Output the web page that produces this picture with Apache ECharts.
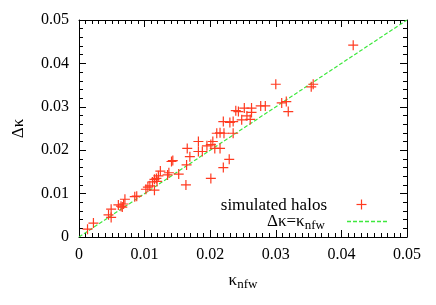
<!DOCTYPE html>
<html><head><meta charset="utf-8">
<script src="https://cdn.jsdelivr.net/npm/echarts@6/dist/echarts.min.js"></script>
<style>html,body{margin:0;padding:0;background:#fff}#c{width:436px;height:305px}</style>
</head><body><div id="c"></div>
<script>
var kappaNfw = [0.0013,0.0022,0.0045,0.0049,0.0049,0.0060,0.0064,0.0068,0.0070,0.0066,0.0085,0.0088,0.0102,0.0105,0.0108,0.0115,0.0112,0.0115,0.0118,0.0121,0.0124,0.0119,0.0135,0.0137,0.0141,0.0143,0.0152,
0.0163,0.0164,0.0169,0.0165,0.0182,0.0188,0.0182,0.0195,0.0201,0.0204,0.0207,0.0215,0.0201,0.0220,0.0229,0.0210,0.0215,0.0221,0.0235,0.0220,0.0230,0.0235,0.0248,0.0256,0.0261,0.0239,0.0243,0.0252,0.0263,0.0263,0.0277,0.0284,0.0300,0.0309,0.0316,0.0319,
0.0354,0.0357,0.0418];
var deltaKappa = [0.0018,0.0032,0.0051,0.0045,0.0064,0.0074,0.0071,0.0076,0.0087,0.0069,0.0093,0.0094,0.0110,0.0115,0.0118,0.0108,0.0127,0.0133,0.0135,0.0141,0.0152,0.0128,0.0143,0.0148,0.0174,0.0176,0.0145,
0.0120,0.0166,0.0185,0.0204,0.0197,0.0197,0.0220,0.0210,0.0213,0.0220,0.0204,0.0204,0.0135,0.0160,0.0179,0.0239,0.0240,0.0239,0.0239,0.0266,0.0264,0.0266,0.0270,0.0279,0.0271,0.0291,0.0289,0.0297,0.0297,0.0287,0.0302,0.0302,0.0352,0.0309,0.0312,0.0289,
0.0346,0.0352,0.0442];
var lineX = [0, 0.05];
var lineY = [0, 0.05];
var tickLabels = ['0','0.01','0.02','0.03','0.04','0.05'];

var pts = kappaNfw.map(function(x,i){return [x, deltaKappa[i]];});
var linePts = lineX.map(function(x,i){return [x, lineY[i]];});
var FONT = 'Liberation Serif';
var RED = '#ff3a20', GREEN = '#3ee83e';
var cross = 'path://M4.4,0h1.2v4.4h4.4v1.2h-4.4v4.4h-1.2v-4.4h-4.4v-1.2h4.4z';
function lab(v){ var idx = Math.round(v*100); return tickLabels[idx] !== undefined ? tickLabels[idx] : ''; }
function mkAxis(pos, split, labels, extra){
  var a = {
    type: 'value', position: pos, min: 0, max: 0.05, interval: 0.01,
    axisLine: {show: true, onZero: false, lineStyle: {color: '#000', width: 1}},
    axisTick: {show: true, inside: true, length: 7, lineStyle: {color: '#000', width: 1}},
    minorTick: {show: true, splitNumber: split, length: 4, lineStyle: {color: '#000', width: 1}},
    splitLine: {show: false},
    axisLabel: labels ? {show: true, fontFamily: FONT, fontSize: 16, color: '#000', margin: 10, formatter: lab} : {show: false}
  };
  return Object.assign(a, extra || {});
}
var chart = echarts.init(document.getElementById('c'), null, {renderer: 'canvas'});
chart.setOption({
  animation: false,
  grid: {left: 79, right: 29, top: 20, bottom: 68},
  xAxis: [
    mkAxis('bottom', 10, true, {
      name: '{a|κ}{s|nfw}', nameLocation: 'middle', nameGap: 33,
      nameTextStyle: {rich: {a: {fontFamily: FONT, fontSize: 17, color: '#000'}, s: {fontFamily: FONT, fontSize: 13, color: '#000', padding: [8,0,0,0]}}}}),
    mkAxis('top', 10, false)
  ],
  yAxis: [
    mkAxis('left', 5, true, {
      name: 'Δκ', nameLocation: 'middle', nameGap: 52, nameRotate: 90,
      nameTextStyle: {fontFamily: FONT, fontSize: 17, color: '#000'}}),
    mkAxis('right', 5, false)
  ],
  series: [
    {type: 'line', name: 'Δκ=κnfw', data: linePts, showSymbol: false, symbol: 'none',
      lineStyle: {color: GREEN, width: 1.2, type: [4,2]}, z: 2},
    {type: 'scatter', name: 'simulated halos', data: pts, symbol: cross, symbolSize: 10,
      itemStyle: {color: RED, opacity: 1}, z: 3}
  ],
  graphic: [
    {type: 'text', x: 327, y: 197, style: {text: 'simulated halos', font: '17px "Liberation Serif"', fill: '#000', align: 'right'}},
    {type: 'text', x: 267, y: 212, style: {text: '{a|Δκ=κ}{s|nfw}', rich: {a: {fontFamily: FONT, fontSize: 17, fill: '#000'}, s: {fontFamily: FONT, fontSize: 13, fill: '#000', padding:[7,0,0,0]}}}},
    {type: 'line', shape: {x1: 356.5, y1: 204.5, x2: 366.5, y2: 204.5}, style: {stroke: RED, lineWidth: 1.2}},
    {type: 'line', shape: {x1: 361.5, y1: 199.5, x2: 361.5, y2: 209.5}, style: {stroke: RED, lineWidth: 1.2}},
    {type: 'line', shape: {x1: 347, y1: 221.5, x2: 387, y2: 221.5}, style: {stroke: GREEN, lineWidth: 1.5, lineDash: [4,2]}}
  ]
});
</script></body></html>
